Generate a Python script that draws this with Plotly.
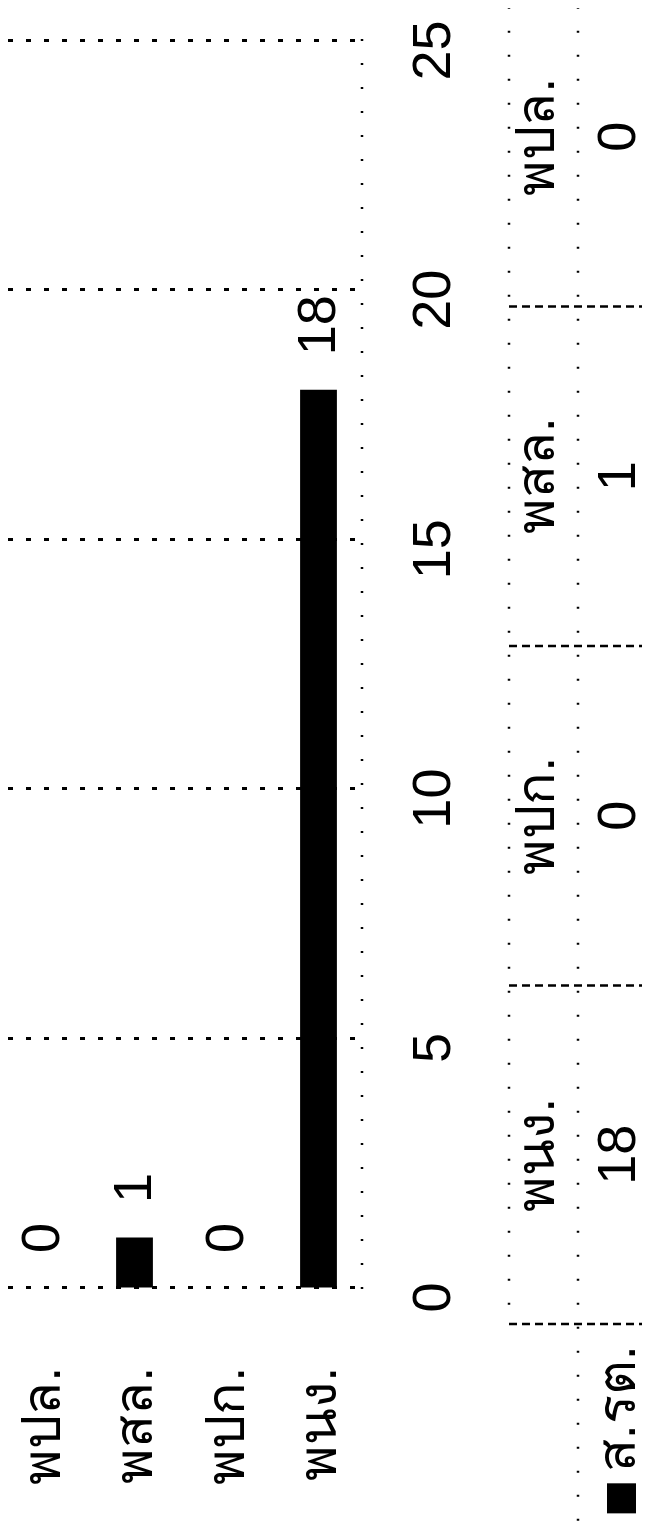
import plotly.graph_objects as go

# ---- data ----
categories = ["พปล.", "พสล.", "พปก.", "พนง."]
values = [0, 1, 0, 18]
series_name = "ส.รต."
tick_vals = [0, 5, 10, 15, 20, 25]

# page layout (the html body adds an 8px offset)
OFF = 8
W, H = 650 - OFF, 1529 - OFF
TOP, BOT = 40, 1288          # page rows of value 25 and value 0
FONT = "Liberation Sans Narrow, Liberation Sans, DejaVu Sans, sans-serif"
FS = 54
PAD = 0.03                   # small range padding so edge gridlines are drawn

def px(x):
    return (x - OFF) / W

def py(y):
    return (BOT - y) / (BOT - TOP)

fig = go.Figure()
fig.add_trace(go.Bar(x=categories, y=values, name=series_name,
                     marker=dict(color="#000000", line=dict(width=0)),
                     width=0.4, showlegend=False))

# value labels above bars (rotated)
for c, v in zip(categories, values):
    fig.add_annotation(x=c, y=v, xref="x", yref="y", text=str(v), showarrow=False,
                       textangle=-90, yanchor="bottom", xanchor="center", yshift=32,
                       xshift=-3, font=dict(family=FONT, size=FS, color="#000"))

sparse_v = dict(color="#000", width=2.5, dash="2px,22px")
# vertical axis line (sparse dots) at right of plot
fig.add_shape(type="line", xref="paper", yref="paper", x0=px(362), x1=px(362),
              y0=py(TOP), y1=py(BOT), line=sparse_v)

# ---- data table (rotated) ----
sep_style = dict(color="#000", width=2.5, dash="8px,5px")
col_edges = [-32, 307, 646, 985, 1323]
fig.add_shape(type="line", xref="paper", yref="paper", x0=px(509), x1=px(509),
              y0=py(-40), y1=py(1323), line=sparse_v)
fig.add_shape(type="line", xref="paper", yref="paper", x0=px(578), x1=px(578),
              y0=py(-40), y1=py(1540), line=sparse_v)
for e in col_edges[1:]:
    fig.add_shape(type="line", xref="paper", yref="paper", x0=px(509), x1=px(660),
                  y0=py(e), y1=py(e), line=sep_style)

for i, (c, v) in enumerate(zip(categories, values)):
    yc = (col_edges[i] + col_edges[i + 1]) / 2
    fig.add_annotation(x=px(535), y=py(yc), xref="paper", yref="paper", text=c,
                       showarrow=False, textangle=-90, xanchor="center", yanchor="middle",
                       font=dict(family=FONT, size=FS, color="#000"))
    fig.add_annotation(x=px(616), y=py(yc), xref="paper", yref="paper", text=str(v),
                       showarrow=False, textangle=-90, xanchor="center", yanchor="middle",
                       font=dict(family=FONT, size=FS, color="#000"))

# series label with legend key
fig.add_shape(type="rect", xref="paper", yref="paper", x0=px(607), x1=px(636),
              y0=py(1482), y1=py(1512), fillcolor="#000", line=dict(width=0))
fig.add_annotation(x=px(616), y=py(1408), xref="paper", yref="paper", text=series_name,
                   showarrow=False, textangle=-90, xanchor="center", yanchor="middle",
                   font=dict(family=FONT, size=FS, color="#000"))

# category axis: centres at page x 42.5 + 92*k, plot area from page x 8 to 364.5
cat_step = 92.0
x_end = 364.5
r0 = -(42.5 - OFF) / cat_step
r1 = r0 + (x_end - OFF) / cat_step

# value axis: 25 units over (BOT-TOP) px, padded slightly on both ends
unit = (BOT - TOP) / 25.0
pad_px = PAD * unit

fig.update_layout(
    width=W, height=H,
    margin=dict(l=0, r=0, t=TOP - OFF - pad_px, b=H - (BOT - OFF) - pad_px, pad=0),
    paper_bgcolor="#ffffff", plot_bgcolor="#ffffff",
    font=dict(family=FONT, size=FS, color="#000"),
    xaxis=dict(domain=[0, (x_end - OFF) / W], type="category", range=[r0, r1],
               tickangle=-90, showgrid=False,
               zeroline=False, showline=False, ticks="",
               tickfont=dict(family=FONT, size=FS, color="#000"),
               ticklabelstandoff=66),
    yaxis=dict(range=[-PAD, 25 + PAD], side="right", anchor="x", tickvals=tick_vals,
               tickangle=-90, showgrid=True, gridcolor="#000", gridwidth=2.5,
               griddash="5px,13px", zeroline=False, showline=False, ticks="",
               tickfont=dict(family=FONT, size=FS, color="#000"),
               ticklabelstandoff=30, ticklabelshift=18, ticklabeloverflow="allow"),
)

fig.write_html("out.html")
